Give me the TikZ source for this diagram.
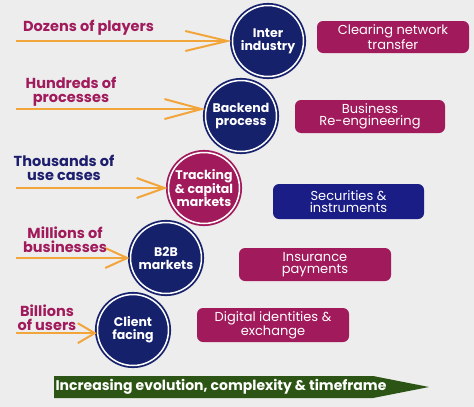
\documentclass[tikz,border=0pt]{standalone}
\usepackage{fontspec}
\setmainfont{Poppins}
\usetikzlibrary{arrows.meta}
\definecolor{bgc}{HTML}{EDEDED}
\definecolor{mag}{HTML}{A11A5B}
\definecolor{navyc}{HTML}{16216C}
\definecolor{navyb}{HTML}{1B1D86}
\definecolor{navyl}{HTML}{1E1E6E}
\definecolor{orng}{HTML}{F2A53A}
\definecolor{grn}{HTML}{2C5414}
\begin{document}
\begin{tikzpicture}[x=1pt,y=-1pt,
  circ/.style={circle, minimum size=71pt, inner sep=0pt, fill=#1, draw=#1,
    double=white, double distance=1.5pt, line width=1.8pt, text=white,
    font=\bfseries\fontsize{12.5}{13}\selectfont, align=center},
  lbl/.style={text=#1, font=\bfseries\fontsize{14.5}{14}\selectfont, align=center, inner sep=0pt},
  box/.style={rounded corners=6pt, fill=#1, text=white, inner sep=0pt,
    font=\fontsize{13}{12.5}\selectfont, align=center},
  arr/.style={draw=orng, line width=2pt, -{Straight Barb[length=#1, width=20pt, line width=2pt]}}
]
\fill[bgc] (0,0) rectangle (474,407);
\useasboundingbox (0,0) rectangle (474,407);

% circles
\node[circ=navyc] (c1) at (268,41) {Inter\\industry};
\node[circ=navyc] (c2) at (241,116) {Backend\\process};
\node[circ=mag] (c3) at (204,188) {Tracking\\\& capital\\markets};
\node[circ=navyc] (c4) at (166,258) {B2B\\markets};
\node[circ=navyc] (c5) at (133,330) {Client\\facing};

% start points
\coordinate (s) at (16,0);

% arrows
\draw[arr=42pt] (s |- c1.west) -- (c1.west);
\draw[arr=37pt] (s |- c2.169) -- (c2.169);
\draw[arr=28pt] (s |- c3.west) -- (c3.west);
\draw[arr=22pt] (s |- c4.west) -- (c4.west);
\draw[arr=17pt] (s |- c5.185) -- (c5.185);

% labels
\node[lbl=mag, anchor=west] (l1) at (23,28) {Dozens of players};
\node[lbl=mag] (l2) at (71,92) {Hundreds of\\processes};
\node[lbl=navyl] (l3) at (64,167.5) {Thousands of\\use cases};
\node[lbl=mag] (l4) at (65,240) {Millions of\\businesses};
\node[lbl=mag] (l5) at (47,318) {Billions\\of users};

% boxes
\node[box=mag, minimum width=152pt, minimum height=32pt] (b1) at (393,37) {Clearing network\\transfer};
\node[box=mag, minimum width=150pt, minimum height=33pt] (b2) at (370,116.5) {Business\\Re-engineering};
\node[box=navyb, minimum width=151pt, minimum height=35pt] (b3) at (348.5,201.5) {Securities \&\\instruments};
\node[box=mag, minimum width=152pt, minimum height=33pt] (b4) at (315,264.5) {Insurance\\payments};
\node[box=mag, minimum width=152pt, minimum height=34pt] (b5) at (273,325) {Digital identities \&\\exchange};

% bottom arrow
\fill[grn] (54,376) -- (373,376) -- (429,387) -- (373,398) -- (54,398) -- cycle;
\node[text=white, font=\bfseries\fontsize{14}{14}\selectfont, inner sep=0pt] (t) at (221,387) {Increasing evolution, complexity \& timeframe};
\end{tikzpicture}
\end{document}
